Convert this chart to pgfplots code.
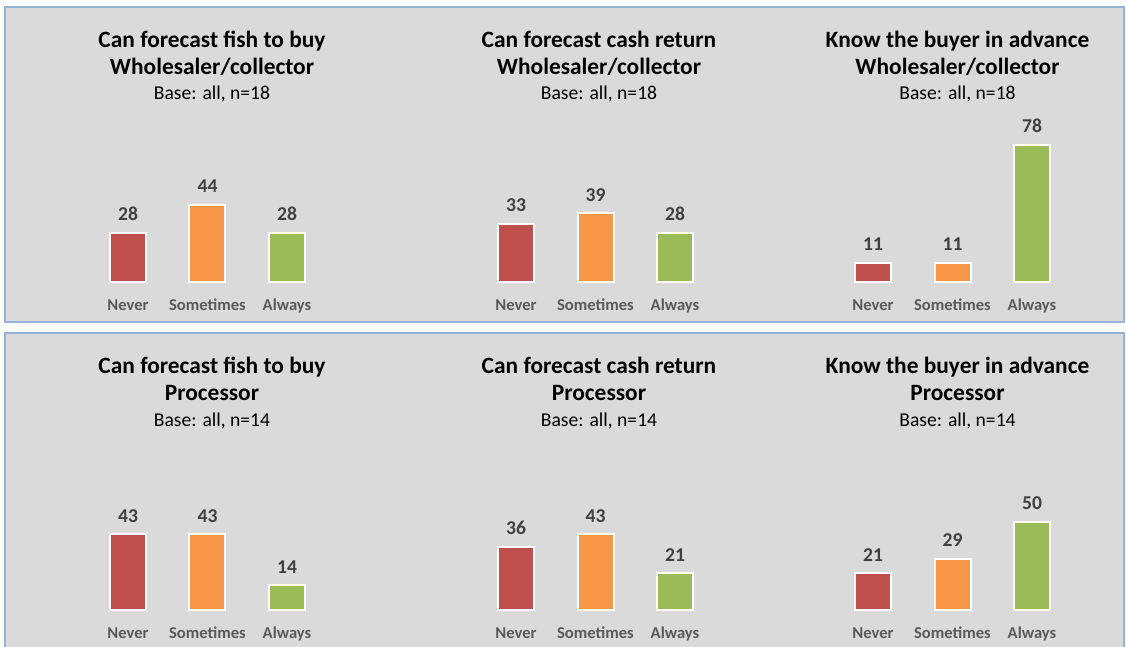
\documentclass[border=0pt]{standalone}
\usepackage{fontspec}
\setmainfont{Carlito}
\usepackage{pgfplots}
\pgfplotsset{compat=1.18}
\definecolor{bg}{HTML}{DADADA}
\definecolor{bd}{HTML}{95B3D7}
\definecolor{cred}{HTML}{C0504D}
\definecolor{corange}{HTML}{F79646}
\definecolor{cgreen}{HTML}{9BBB59}
\definecolor{lbl}{HTML}{404040}
\definecolor{cat}{HTML}{595959}
\pgfplotsset{minibar/.style={
  width=119.25pt, height=88pt, scale only axis,
  xmin=-0.5, xmax=2.5, ymin=0, ymax=100,
  axis line style={draw=none}, tick style={draw=none}, major tick length=0pt,
  ytick=\empty, xtick={0,1,2}, xticklabels={Never,Sometimes,Always},
  xticklabel style={anchor=base, yshift=-14.5pt, inner sep=0pt,
    font=\fontsize{8.3}{10}\selectfont\bfseries, text=cat},
  ybar, bar width=18pt,
  every axis plot/.append style={draw=white, line width=1pt, bar shift=0pt},
  /pgf/number format/assume math mode=true,
  nodes near coords,
  nodes near coords style={anchor=base, yshift=6pt, inner sep=0pt,
    font=\fontsize{9.8}{12}\selectfont\bfseries, text=lbl},
  clip=false,
  anchor=south west,
}}
\newcommand{\ttl}[4]{%
  \node[anchor=base, font=\fontsize{11.7}{14}\selectfont\bfseries] at (#1,#2) {#3};
  \node[anchor=base, font=\fontsize{11.7}{14}\selectfont\bfseries] at (#1,#2-27) {#4};
}
\begin{document}
\begin{tikzpicture}[x=0.5pt,y=0.5pt]
\useasboundingbox (0,0) rectangle (1126,647);
\fill[bg] (5,640) rectangle (1124,325);
\draw[bd, line width=1pt] (5,640) rectangle (1124,325);
\fill[bg] (5,314) rectangle (1124,-10);
\draw[bd, line width=1pt] (5,-10) -- (5,314) -- (1124,314) -- (1124,-10);
% titles
\ttl{212}{599}{Can forecast fish to buy}{Wholesaler/collector}
\ttl{599}{599}{Can forecast cash return}{Wholesaler/collector}
\ttl{957.5}{599}{Know the buyer in advance}{Wholesaler/collector}
\ttl{212}{273}{Can forecast fish to buy}{Processor}
\ttl{599}{273}{Can forecast cash return}{Processor}
\ttl{957.5}{273}{Know the buyer in advance}{Processor}
\foreach \xx/\yy/\nn in {212/547/18, 599/547/18, 957.5/547/18, 212/220/14, 599/220/14, 957.5/220/14}{
  \node[anchor=base, font=\fontsize{9.8}{12}\selectfont] at (\xx,\yy) {Base: all, n=\nn};
}
% top row
\begin{axis}[minibar, at={(44.125pt,182.5pt)}]
\addplot[fill=cred] coordinates {(0,28)};
\addplot[fill=corange] coordinates {(1,44)};
\addplot[fill=cgreen] coordinates {(2,28)};
\end{axis}
\begin{axis}[minibar, at={(238.125pt,182.5pt)}]
\addplot[fill=cred] coordinates {(0,33)};
\addplot[fill=corange] coordinates {(1,39)};
\addplot[fill=cgreen] coordinates {(2,28)};
\end{axis}
\begin{axis}[minibar, at={(416.625pt,182.5pt)}]
\addplot[fill=cred] coordinates {(0,11)};
\addplot[fill=corange] coordinates {(1,11)};
\addplot[fill=cgreen] coordinates {(2,78)};
\end{axis}
% bottom row
\begin{axis}[minibar, at={(44.125pt,18.5pt)}]
\addplot[fill=cred] coordinates {(0,43)};
\addplot[fill=corange] coordinates {(1,43)};
\addplot[fill=cgreen] coordinates {(2,14)};
\end{axis}
\begin{axis}[minibar, at={(238.125pt,18.5pt)}]
\addplot[fill=cred] coordinates {(0,36)};
\addplot[fill=corange] coordinates {(1,43)};
\addplot[fill=cgreen] coordinates {(2,21)};
\end{axis}
\begin{axis}[minibar, at={(416.625pt,18.5pt)}]
\addplot[fill=cred] coordinates {(0,21)};
\addplot[fill=corange] coordinates {(1,29)};
\addplot[fill=cgreen] coordinates {(2,50)};
\end{axis}
\end{tikzpicture}
\end{document}
